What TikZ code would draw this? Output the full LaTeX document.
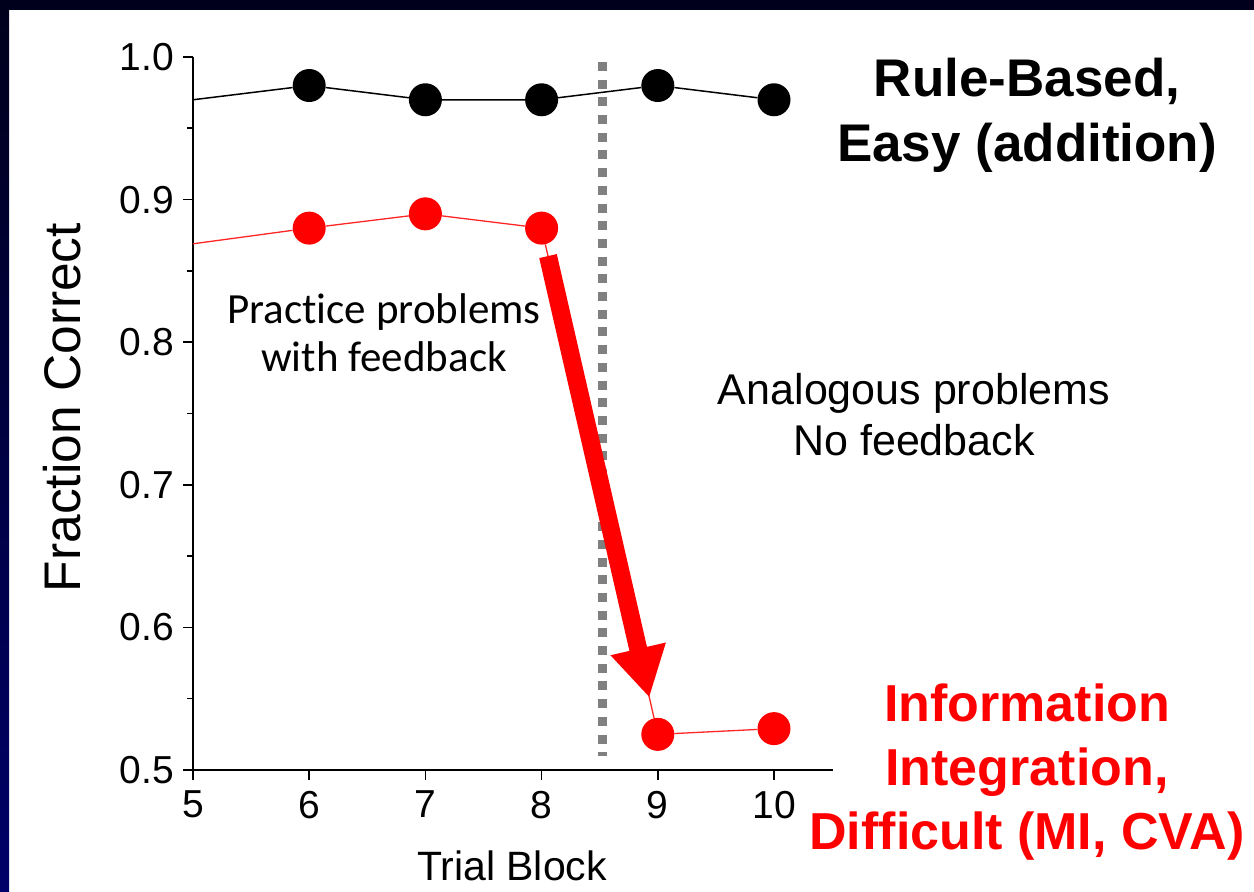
\documentclass[tikz,border=0pt]{standalone}
\usepackage{fontspec}
\setmainfont{Liberation Sans}
\newfontfamily\calibrifont{Carlito}[Ligatures=NoCommon]
\usepackage{xcolor}
\definecolor{navyTop}{RGB}{0,0,28}
\definecolor{navyBot}{RGB}{0,0,105}
\definecolor{divGray}{RGB}{128,128,128}
\definecolor{ptRed}{RGB}{255,0,0}
\usetikzlibrary{arrows.meta, positioning}

\tikzset{
  blackdot/.style={circle, fill=black, inner sep=0pt, minimum size=33pt},
  reddot/.style={circle, fill=ptRed, inner sep=0pt, minimum size=33pt},
  blackline/.style={black, line width=1.5pt},
  redline/.style={ptRed!85, line width=1.3pt},
  ticklabel/.style={inner sep=0pt, font=\fontsize{39}{39}\selectfont},
  bigarrow/.style={ptRed, line width=18pt, -{Triangle[length=50pt, width=53pt]}},
}

\begin{document}
\begin{tikzpicture}[x=1pt, y=1pt]
  \useasboundingbox (0,0) rectangle (1254,892);
  % slide frame
  \fill[white] (0,0) rectangle (1254,892);
  \shade[top color=navyTop, bottom color=navyBot] (0,0) rectangle (9,892);
  \fill[navyTop] (0,882) rectangle (1254,892);

  \begin{scope}[shift={(-388pt,-591pt)}, x=116.2pt, y=1426pt]
    % axes and ticks
    \draw[line width=1.6pt] (5,1) -- (5,0.5) -- (10.51,0.5);
    \foreach \v/\lab in {0.5/0.5, 0.6/0.6, 0.7/0.7, 0.8/0.8, 0.9/0.9, 1.0/1.0}
      \draw[line width=1.6pt] (5,\v) -- ++(-10pt,0) node[ticklabel, left=8pt] {\lab};
    \foreach \v in {0.55,0.65,0.75,0.85,0.95}
      \draw[line width=1.6pt] (5,\v) -- ++(-6pt,0);
    \foreach \b in {5,...,10}
      \draw[line width=1.6pt] (\b,0.5) -- ++(0,-10pt) node[ticklabel, below=10pt] {\b};

    % practice / test divider
    \coordinate (divtop) at (8.52,0.9965);
    \coordinate (divbot) at (8.52,0.5098);
    \draw[divGray, line width=9pt, dash pattern=on 9pt off 8.7pt] (divtop) -- (divbot);

    % rule-based, easy
    \coordinate (b5) at (5,0.97);
    \node[blackdot] (b6) at (6,0.98) {};
    \node[blackdot] (b7) at (7,0.97) {};
    \node[blackdot] (b8) at (8,0.97) {};
    \node[blackdot] (b9) at (9,0.98) {};
    \node[blackdot] (b10) at (10,0.97) {};
    \draw[blackline] (b5) -- (b6) -- (b7) -- (b8) -- (b9) -- (b10);

    % information integration, difficult
    \coordinate (r5) at (5,0.869);
    \node[reddot] (r6) at (6,0.88) {};
    \node[reddot] (r7) at (7,0.89) {};
    \node[reddot] (r8) at (8,0.88) {};
    \node[reddot] (r9) at (9,0.525) {};
    \node[reddot] (r10) at (10,0.529) {};
    \draw[redline] (r5) -- (r6) -- (r7) -- (r8) -- (r9) -- (r10);

    \draw[bigarrow, shorten <=12pt, shorten >=21pt] (r8) -- (r9);
  \end{scope}

  % axis titles
  \node[inner sep=0pt, rotate=90, font=\fontsize{51.5}{52}\selectfont]
    (ylab) at (62,484.5) {Fraction Correct};
  \node[inner sep=0pt, font=\fontsize{41}{41}\selectfont]
    (xlab) at (512,26) {Trial Block};

  % annotations
  \node[inner sep=0pt, anchor=north, align=center,
    font=\calibrifont\fontsize{43}{48}\selectfont]
    (practice) at (384,599) {Prac\kern0pt tice problems\\with feedback};
  \node[inner sep=0pt, anchor=north, align=center,
    font=\fontsize{43}{51}\selectfont]
    (analog) at (914,519) {Analogous problems\\No feedback};

  \node[inner sep=0pt, anchor=north, align=center,
    font=\bfseries\fontsize{53}{65}\selectfont]
    (easy) at (1027,834) {Rule-Based,\\Easy (addition)};
  \node[inner sep=0pt, anchor=north, align=center, text=ptRed,
    font=\bfseries\fontsize{52}{64}\selectfont]
    (hard) at (1027,208) {Information\\Integration,\\Difficult (MI, CVA)};
\end{tikzpicture}
\end{document}
